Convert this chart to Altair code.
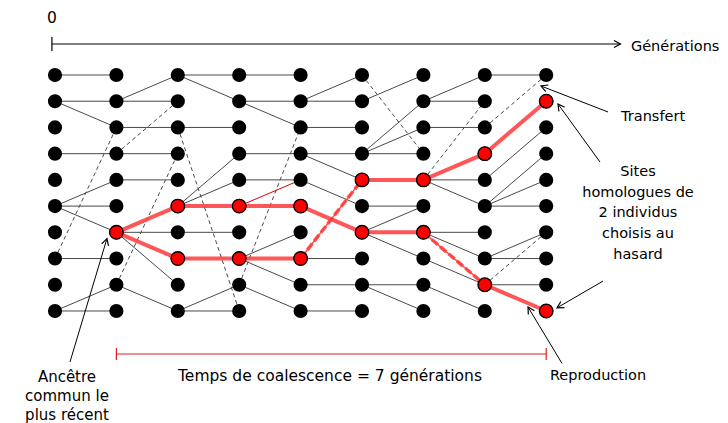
import math
import altair as alt
import pandas as pd

# ---------------- data ----------------
n_cols = 9
n_rows = 10

# edges: (left column, row in left column, row in right column)
solid_edges = [
    (0, 0, 0), (0, 1, 1), (0, 1, 2), (0, 3, 3), (0, 5, 4), (0, 5, 5), (0, 5, 6), (0, 7, 7), (0, 9, 8), (0, 9, 9),
    (1, 1, 0), (1, 1, 1), (1, 2, 2), (1, 3, 3), (1, 4, 4), (1, 6, 6), (1, 6, 8), (1, 8, 9),
    (2, 0, 0), (2, 0, 1), (2, 2, 2), (2, 5, 3), (2, 5, 4), (2, 6, 6), (2, 9, 8), (2, 9, 9),
    (3, 0, 0), (3, 1, 1), (3, 1, 2), (3, 3, 3), (3, 4, 4), (3, 7, 6), (3, 7, 8), (3, 8, 9),
    (4, 1, 0), (4, 1, 1), (4, 2, 2), (4, 3, 3), (4, 3, 4), (4, 4, 5), (4, 7, 7), (4, 8, 8), (4, 9, 9),
    (5, 1, 0), (5, 3, 1), (5, 3, 2), (5, 3, 3), (5, 5, 5), (5, 6, 5), (5, 6, 7), (5, 8, 8), (5, 8, 9),
    (6, 1, 0), (6, 1, 1), (6, 2, 2), (6, 4, 4), (6, 4, 5), (6, 6, 6), (6, 6, 7), (6, 7, 8), (6, 8, 9),
    (7, 0, 0), (7, 4, 2), (7, 5, 3), (7, 5, 4), (7, 5, 5), (7, 7, 6), (7, 7, 7), (7, 8, 8),
]
dashed_edges = [(0, 7, 2), (1, 3, 1), (1, 8, 3), (2, 2, 9), (3, 8, 2), (5, 0, 3), (6, 4, 1), (7, 2, 0), (7, 8, 6)]
red_edges = [(1, 6, 5), (1, 6, 7), (2, 5, 5), (2, 7, 7), (3, 5, 5), (3, 7, 7), (4, 5, 6),
             (5, 4, 4), (5, 6, 6), (6, 4, 3), (7, 3, 1), (7, 8, 9)]
red_dashed_edges = [(4, 7, 4), (6, 6, 8)]
red_thin_edges = [(3, 5, 4)]
red_nodes = [(1, 6), (2, 5), (2, 7), (3, 5), (3, 7), (4, 5), (4, 7), (5, 4), (5, 6),
             (6, 4), (6, 6), (7, 3), (7, 8), (8, 1), (8, 9)]

# annotation arrows: (col start, row start, col end, row end)
annotation_arrows = [
    (9.007, 1.411, 7.915, 0.420),    # Transfert
    (8.876, 3.318, 8.192, 1.106),    # Sites -> top
    (8.925, 7.860, 8.176, 8.880),    # Sites -> bottom
    (0.244, 10.946, 0.846, 6.240),   # Ancêtre
    (8.257, 11.000, 7.704, 8.848),   # Reproduction
]
axis_arrow = (-0.05, -1.182, 9.21, -1.182)
axis_tick = (-0.05, -1.45, -0.05, -0.915)

coal_line = (1, 10.64, 8, 10.64)
coal_ticks = [(1, 10.41, 1, 10.87), (8, 10.41, 8, 10.87)]

left_texts = ["Générations", "Transfert"]
left_text_pos = [(9.38, -1.068), (9.22, 1.602)]
left_text_size = [14.5, 14.5]
center_texts = ["0", "Sites", "homologues de", "2 individus", "choisis au", "hasard",
                "Ancêtre", "commun le", "plus récent",
                "Temps de coalescence = 7 générations", "Reproduction"]
center_text_pos = [(-0.05, -2.174), (9.495, 3.70), (9.495, 4.50), (9.495, 5.27), (9.495, 6.07), (9.495, 6.86),
                   (0.195, 11.53), (0.195, 12.24), (0.195, 12.95),
                   (4.479, 11.48), (8.844, 11.48)]
center_text_size = [15.5, 14.5, 14.5, 14.5, 14.5, 14.5, 15, 15, 15, 15.5, 14.5]

# ---------------- scales ----------------
COL_PX = 61.4
ROW_PX = 26.22
X0_PX = 47.0
Y0_PX = 67.0
W, H = 712, 415

xscale = alt.Scale(domain=[-X0_PX / COL_PX, (W - X0_PX) / COL_PX], nice=False, zero=False)
yscale = alt.Scale(domain=[-Y0_PX / ROW_PX, (H - Y0_PX) / ROW_PX], nice=False, zero=False, reverse=True)


def seg_df(edges):
    return pd.DataFrame([{"x": c, "y": r1, "x2": c + 1, "y2": r2} for c, r1, r2 in edges])


def line_df(lines):
    return pd.DataFrame([{"x": a, "y": b, "x2": c, "y2": d} for a, b, c, d in lines])


def rules(df, **kw):
    return alt.Chart(df).mark_rule(**kw).encode(
        x=alt.X("x:Q", scale=xscale, axis=None),
        y=alt.Y("y:Q", scale=yscale, axis=None),
        x2="x2:Q", y2="y2:Q")


def heads(lines):
    rows = []
    for a, b, c, d in lines:
        ang = math.degrees(math.atan2((d - b) * ROW_PX, (c - a) * COL_PX)) % 360
        rows.append({"x": c, "y": d, "angle": ang})
    return pd.DataFrame(rows)


arrow_path = "M -1 -0.55 L 0 0 L -1 0.55"

grey = "#4a4a4a"
red = "#ff3a3a"

layers = []
layers.append(rules(seg_df(solid_edges), color=grey, strokeWidth=1))
layers.append(rules(seg_df(dashed_edges), color=grey, strokeWidth=1, strokeDash=[4, 3]))
layers.append(rules(seg_df(red_edges), color=red, strokeWidth=4, opacity=0.85, strokeCap="round"))
layers.append(rules(seg_df(red_dashed_edges), color=red, strokeWidth=1.5, opacity=0.9))
layers.append(rules(seg_df(red_dashed_edges), color=red, strokeWidth=3.5, opacity=0.85, strokeDash=[8, 3]))
layers.append(rules(seg_df(red_thin_edges), color="#e00000", strokeWidth=1))

nodes = pd.DataFrame([{"x": c, "y": r} for c in range(n_cols) for r in range(n_rows)])
layers.append(alt.Chart(nodes).mark_point(filled=True, color="black", size=200, opacity=1, shape="circle").encode(
    x=alt.X("x:Q", scale=xscale, axis=None), y=alt.Y("y:Q", scale=yscale, axis=None)))
rn = pd.DataFrame([{"x": c, "y": r} for c, r in red_nodes])
layers.append(alt.Chart(rn).mark_point(filled=True, fill="#ff0000", stroke="black", strokeWidth=1.3,
                                       size=185, opacity=1, shape="circle").encode(
    x=alt.X("x:Q", scale=xscale, axis=None), y=alt.Y("y:Q", scale=yscale, axis=None)))

# axis
layers.append(rules(line_df([axis_arrow, axis_tick]), color="black", strokeWidth=1.2))
# annotation arrows
layers.append(rules(line_df(annotation_arrows), color="black", strokeWidth=1))
all_heads = pd.concat([heads(annotation_arrows), heads([axis_arrow])], ignore_index=True)
layers.append(alt.Chart(all_heads).mark_point(shape=arrow_path, filled=False, stroke="black", strokeWidth=1.2,
                                              size=170, opacity=1).encode(
    x=alt.X("x:Q", scale=xscale, axis=None), y=alt.Y("y:Q", scale=yscale, axis=None),
    angle=alt.Angle("angle:Q", scale=None)))
# coalescence bar
layers.append(rules(line_df([coal_line] + coal_ticks), color="#e02020", strokeWidth=1.2))

# texts
lt = pd.DataFrame([{"t": t, "x": p[0], "y": p[1], "s": s}
                   for t, p, s in zip(left_texts, left_text_pos, left_text_size)])
ct = pd.DataFrame([{"t": t, "x": p[0], "y": p[1], "s": s}
                   for t, p, s in zip(center_texts, center_text_pos, center_text_size)])
layers.append(alt.Chart(lt).mark_text(align="left", baseline="middle", font="DejaVu Sans",
                                      color="black").encode(
    x=alt.X("x:Q", scale=xscale, axis=None), y=alt.Y("y:Q", scale=yscale, axis=None), text="t:N",
    size=alt.Size("s:Q", scale=None)))
layers.append(alt.Chart(ct).mark_text(align="center", baseline="middle", font="DejaVu Sans",
                                      color="black").encode(
    x=alt.X("x:Q", scale=xscale, axis=None), y=alt.Y("y:Q", scale=yscale, axis=None), text="t:N",
    size=alt.Size("s:Q", scale=None)))

chart = alt.layer(*layers).properties(
    width=W, height=H, autosize=alt.AutoSizeParams(type="none"), padding=0,
    background="white"
).configure_view(stroke=None)

chart.save("out.html", embed_options={"renderer": "svg", "actions": False})
